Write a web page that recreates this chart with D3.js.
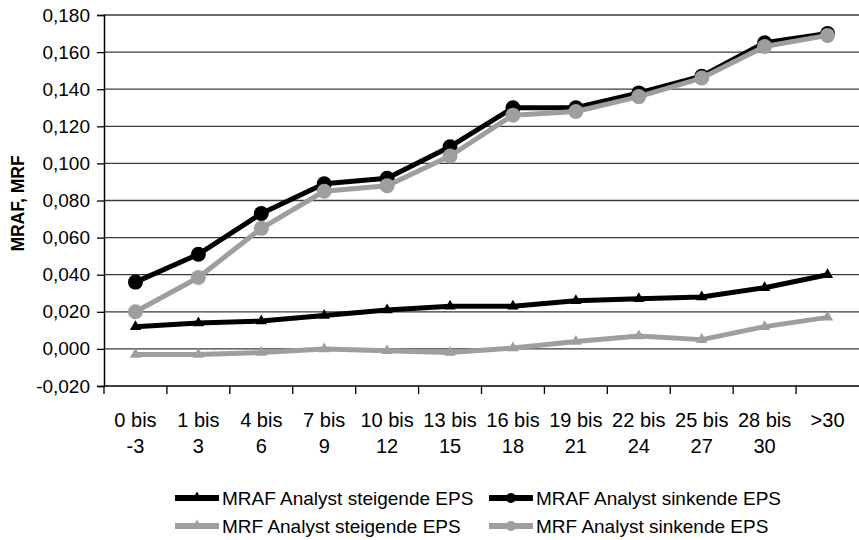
<!DOCTYPE html>
<html>
<head>
<meta charset="utf-8">
<script src="https://cdn.jsdelivr.net/npm/d3@7"></script>
<style>
  body { margin: 0; background: #fff; }
  text { font-family: "Liberation Sans", Arial, sans-serif; fill: #000; }
</style>
</head>
<body>
<div id="chart"></div>
<script>
// categories (days) and series values
var categories = ["0 bis -3", "1 bis 3", "4 bis 6", "7 bis 9", "10 bis 12", "13 bis 15",
                  "16 bis 18", "19 bis 21", "22 bis 24", "25 bis 27", "28 bis 30", ">30"];
var mrafSteigend = [0.012, 0.014, 0.015, 0.018, 0.021, 0.023, 0.023, 0.026, 0.027, 0.028, 0.033, 0.040];
var mrafSinkend  = [0.036, 0.051, 0.073, 0.089, 0.092, 0.109, 0.130, 0.130, 0.138, 0.147, 0.165, 0.170];
var mrfSteigend  = [-0.003, -0.003, -0.002, 0.000, -0.001, -0.002, 0.0005, 0.004, 0.007, 0.005, 0.012, 0.017];
var mrfSinkend   = [0.020, 0.0385, 0.065, 0.085, 0.088, 0.104, 0.126, 0.128, 0.136, 0.146, 0.163, 0.169];
var yTicks = [-0.02, 0, 0.02, 0.04, 0.06, 0.08, 0.10, 0.12, 0.14, 0.16, 0.18];
var seriesNames = ["MRAF Analyst steigende EPS", "MRAF Analyst sinkende EPS",
                   "MRF Analyst steigende EPS", "MRF Analyst sinkende EPS"];

var width = 859, height = 540;
var margin = {top: 15, right: 0, bottom: 154, left: 104};

var svg = d3.select("#chart").append("svg")
  .attr("width", width)
  .attr("height", height);

var x = d3.scaleBand()
  .domain(categories)
  .range([margin.left, width - margin.right]);

var y = d3.scaleLinear()
  .domain([-0.02, 0.18])
  .range([height - margin.bottom, margin.top]);

var locale = d3.formatLocale({decimal: ",", thousands: ".", grouping: [3], currency: ["", " €"], minus: "-"});
var fmt = locale.format(".3f");

// gridlines
svg.append("g")
  .selectAll("line")
  .data(yTicks.slice(1))
  .enter().append("line")
  .attr("x1", margin.left)
  .attr("x2", width - margin.right)
  .attr("y1", function(d) { return y(d); })
  .attr("y2", function(d) { return y(d); })
  .attr("stroke", "#3a3a3a")
  .attr("stroke-width", 1.3);

// y axis
var yAxisG = svg.append("g")
  .attr("transform", "translate(" + margin.left + ",0)")
  .call(d3.axisLeft(y).tickValues(yTicks).tickFormat(fmt).tickSize(7).tickPadding(7));
yAxisG.selectAll("text").style("font-size", "19px").attr("font-family", null);
yAxisG.select(".domain").attr("stroke", "#000").attr("stroke-width", 1.5);
yAxisG.selectAll(".tick line").attr("stroke", "#000").attr("stroke-width", 1.3);

// x axis (ticks at category boundaries)
var xAxisG = svg.append("g")
  .attr("transform", "translate(0," + y(-0.02) + ")");
xAxisG.append("line")
  .attr("x1", margin.left).attr("x2", width - margin.right)
  .attr("stroke", "#000").attr("stroke-width", 1.5);
xAxisG.selectAll(".xtick")
  .data(categories)
  .enter().append("line")
  .attr("class", "xtick")
  .attr("x1", function(d) { return x(d); })
  .attr("x2", function(d) { return x(d); })
  .attr("y1", 0).attr("y2", 8)
  .attr("stroke", "#000").attr("stroke-width", 1.3);

var xLabels = xAxisG.selectAll(".xlabel")
  .data(categories)
  .enter().append("text")
  .attr("class", "xlabel")
  .attr("text-anchor", "middle")
  .style("font-size", "20px")
  .attr("transform", function(d) { return "translate(" + (x(d) + x.bandwidth() / 2) + ",0)"; });

xLabels.each(function(d) {
  var parts = d.split(" bis ");
  var t = d3.select(this);
  if (parts.length == 2) {
    t.append("tspan").attr("x", 0).attr("y", 41).text(parts[0] + " bis");
    t.append("tspan").attr("x", 0).attr("y", 67).text(parts[1]);
  } else {
    t.append("tspan").attr("x", 0).attr("y", 41).text(d);
  }
});

// y axis title
svg.append("text")
  .attr("transform", "translate(24," + ((y(0.18) + y(-0.02)) / 2 + 3) + ") rotate(-90)")
  .attr("text-anchor", "middle")
  .style("font-size", "17.5px")
  .style("font-weight", "bold")
  .text("MRAF, MRF");

// series
var series = [
  {name: seriesNames[0], values: mrafSteigend, color: "#000", marker: "triangle"},
  {name: seriesNames[1], values: mrafSinkend, color: "#000", marker: "circle"},
  {name: seriesNames[2], values: mrfSteigend, color: "#9e9e9e", marker: "triangle"},
  {name: seriesNames[3], values: mrfSinkend, color: "#9e9e9e", marker: "circle"}
];

var line = d3.line()
  .x(function(d, i) { return x(categories[i]) + x.bandwidth() / 2; })
  .y(function(d) { return y(d); });

series.forEach(function(s) {
  var g = svg.append("g");
  g.append("path")
    .datum(s.values)
    .attr("d", line)
    .attr("fill", "none")
    .attr("stroke", s.color)
    .attr("stroke-width", 5)
    .attr("stroke-linejoin", "round");
  if (s.marker == "circle") {
    g.selectAll("circle")
      .data(s.values)
      .enter().append("circle")
      .attr("cx", function(d, i) { return x(categories[i]) + x.bandwidth() / 2; })
      .attr("cy", function(d) { return y(d); })
      .attr("r", 7.5)
      .attr("fill", s.color);
  } else {
    g.selectAll("path.mk")
      .data(s.values)
      .enter().append("path")
      .attr("class", "mk")
      .attr("d", d3.symbol().type(d3.symbolTriangle).size(55))
      .attr("transform", function(d, i) { return "translate(" + (x(categories[i]) + x.bandwidth() / 2) + "," + y(d) + ")"; })
      .attr("fill", s.color);
  }
});

// legend
var legendPos = [[175, 498], [489, 498], [175, 526], [489, 526]];
series.forEach(function(s, i) {
  var lg = svg.append("g")
    .attr("transform", "translate(" + legendPos[i][0] + "," + legendPos[i][1] + ")");
  lg.append("line")
    .attr("x1", 0).attr("x2", 44)
    .attr("stroke", s.color).attr("stroke-width", 6);
  if (s.marker == "circle") {
    lg.append("circle").attr("cx", 22).attr("r", 5).attr("fill", s.color);
  } else {
    lg.append("path")
      .attr("d", d3.symbol().type(d3.symbolTriangle).size(40))
      .attr("transform", "translate(22,-1)")
      .attr("fill", s.color);
  }
  lg.append("text")
    .attr("x", 47)
    .attr("y", 7)
    .style("font-size", "19px")
    .text(s.name);
});
</script>
</body>
</html>
